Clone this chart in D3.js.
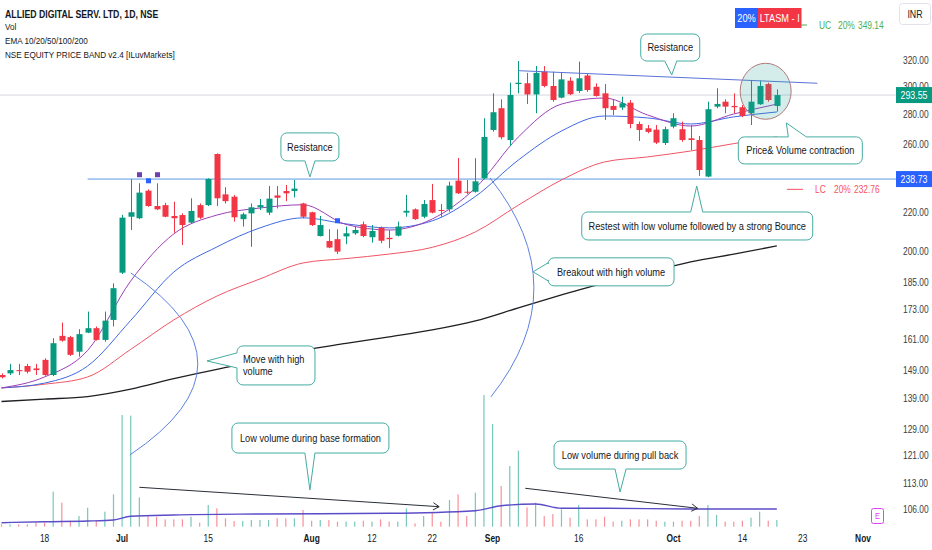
<!DOCTYPE html>
<html>
<head>
<meta charset="utf-8">
<script src="https://cdn.jsdelivr.net/npm/d3@7"></script>
<style>
  html, body { margin: 0; padding: 0; background: #fff; }
  svg { display: block; font-family: "Liberation Sans", Arial, sans-serif; }
</style>
</head>
<body>
<svg id="chart" width="932" height="550"></svg>
<script>
// Trading days on the chart (2024), then the empty days right of the last bar
const dates = [
  '06-10','06-11','06-12','06-13','06-14','06-18','06-19','06-20','06-21','06-24','06-25','06-26','06-27','06-28',
  '07-01','07-02','07-03','07-04','07-05','07-08','07-09','07-10','07-11','07-12','07-15','07-16','07-18','07-19',
  '07-22','07-23','07-24','07-25','07-26','07-29','07-30','07-31',
  '08-01','08-02','08-05','08-06','08-07','08-08','08-09','08-12','08-13','08-14','08-16','08-19','08-20','08-21',
  '08-22','08-23','08-26','08-27','08-28','08-29','08-30',
  '09-02','09-03','09-04','09-05','09-06','09-09','09-10','09-11','09-12','09-13','09-16','09-17','09-18','09-19',
  '09-20','09-23','09-24','09-25','09-26','09-27','09-30',
  '10-01','10-03','10-04','10-07','10-08','10-09','10-10','10-11','10-14','10-15','10-16','10-17','10-18'
];
const futureDates = ['10-21','10-22','10-23','10-24','10-25','10-28','10-29','10-30','10-31','11-01'];

const opens = [
  147.4,148.0,149.2,150.7,149.8,153.0,147.4,162.3,161.8,156.1,163.6,165.4,160.7,168.8,
  189.6,217.6,216.8,232.0,223.4,223.9,218.0,218.5,214.5,223.9,223.9,253.9,229.9,228.6,
  216.3,219.4,222.7,219.8,229.3,231.8,231.8,224.8,
  220.0,207.5,205.0,205.9,207.3,208.9,213.6,206.9,211.8,206.6,207.7,219.8,221.6,217.6,
  226.7,221.2,221.6,237.8,231.4,231.4,239.2,
  269.4,284.2,262.8,301.6,302.2,294.0,311.0,300.2,291.7,304.1,296.5,308.0,299.6,294.8,
  285.8,284.7,288.1,273.4,270.5,269.6,260.9,
  271.6,269.9,263.9,262.8,240.2,285.3,288.8,285.8,284.9,280.7,287.0,301.6,285.8
];
const highs = [
  148.0,151.5,151.5,151.5,151.5,153.6,161.4,167.7,162.3,165.0,172.3,166.1,172.3,184.7,
  218.6,238.6,236.3,232.8,236.3,225.2,225.8,219.4,227.7,224.8,239.2,254.3,234.0,229.6,
  219.8,224.8,227.3,234.7,234.7,235.3,238.2,225.2,
  220.3,218.0,211.0,211.0,212.4,212.4,215.0,213.2,212.4,210.6,215.0,229.6,222.1,226.7,
  235.9,224.5,237.2,251.4,238.2,251.3,277.3,
  294.8,290.5,302.6,319.2,310.0,315.3,315.3,311.0,310.0,306.7,318.7,309.4,302.1,301.6,
  290.0,292.4,290.0,275.0,272.7,272.7,271.6,
  280.7,275.0,272.7,265.4,288.8,298.5,290.5,294.8,286.5,304.6,304.1,302.6,297.7
];
const lows = [
  146.2,147.4,147.4,148.0,147.4,147.1,147.0,160.0,154.5,154.2,163.4,160.4,160.0,166.1,
  189.0,210.6,216.3,223.0,221.2,217.3,209.2,203.0,214.2,216.4,223.4,223.4,224.8,215.0,
  212.4,202.1,221.2,218.5,222.1,226.1,228.2,216.8,
  212.7,207.3,201.4,198.5,203.4,208.1,206.9,204.2,203.9,201.4,207.3,217.6,215.9,216.8,
  219.4,217.6,220.3,230.1,230.1,230.9,238.6,
  268.3,263.3,259.0,294.8,287.2,280.7,299.2,288.8,291.2,293.5,295.2,295.9,292.4,276.1,
  279.5,283.0,270.5,262.2,267.2,260.2,259.6,
  270.5,261.7,256.4,240.6,239.8,284.2,280.7,280.7,278.0,272.7,286.5,288.8,281.8
];
const closes = [
  146.6,149.2,148.8,148.6,149.2,147.4,159.4,160.4,154.9,163.0,165.4,160.7,168.5,182.5,
  217.1,220.0,230.9,223.4,221.6,217.6,216.8,213.2,220.7,217.1,238.8,227.7,226.1,217.3,
  218.9,222.7,223.9,227.5,228.0,230.5,233.2,217.6,
  213.2,213.2,201.7,199.7,208.9,210.6,207.5,210.1,205.1,205.9,212.4,220.8,216.3,224.5,
  219.8,220.7,234.9,230.5,230.9,237.4,264.8,
  281.4,264.6,293.6,302.6,294.0,310.0,300.2,290.0,305.1,294.2,305.9,297.2,292.9,284.2,
  283.0,287.7,273.4,269.4,268.1,261.1,269.9,
  277.3,262.8,262.8,244.1,283.5,287.2,285.3,284.9,278.9,288.8,300.2,290.0,293.55
];
// volume, thousand shares
const volumes = [
  70,70,70,70,120,120,1050,720,180,320,570,180,450,970,
  3350,3330,880,320,300,220,220,220,300,120,650,550,250,170,
  170,200,200,200,250,250,250,500,
  180,200,200,150,150,150,180,150,220,150,150,550,100,320,
  420,150,800,970,320,1020,3950,
  3080,1220,1820,2280,580,720,320,380,520,270,650,220,220,300,
  150,180,220,220,220,180,150,
  150,180,180,320,650,350,150,150,180,270,450,180,200
];

// moving averages at every fifth session
const emaDates = ['06-10','06-18','06-25','07-02','07-09','07-16','07-24','07-31','08-07','08-14',
  '08-22','08-29','09-05','09-12','09-19','09-26','10-04','10-11','10-18'];
const ema10 = [142.8,146.7,156.6,185.8,208.6,218.5,222.3,224.1,213.5,210.6,216.4,233.5,264.8,287.1,291.4,279.5,272.0,280.2,287.1];
const ema20 = [142.8,144.5,150.7,168.6,189.9,202.0,211.7,217.0,213.8,211.7,215.4,228.7,250.2,268.7,278.8,277.5,273.4,278.2,281.6];
const ema50 = [142.8,144.1,146.7,157.0,168.8,179.0,186.7,194.2,196.3,198.5,201.8,209.6,223.9,238.2,249.0,252.1,255.8,260.5,264.8];
const ema200 = [138.1,138.9,139.8,142.4,146.1,149.5,152.6,156.6,159.3,161.9,164.7,168.4,173.9,179.5,184.9,189.7,194.7,198.5,202.5];

const volMaDates = ['06-10','06-18','06-25','06-28','07-02','07-09','07-24','08-14','08-29','09-03','09-09','09-12','09-19','10-04','10-18'];
const volMa = [120,150,171,201,312,351,381,402,480,630,681,552,552,531,531];

// price band markers shown above some bars
const markerDates = ['07-03','07-04','07-05','08-06'];
const markerKinds = ['purple','blue','purple','blue'];

const priceTicks = [320,300,280,260,220,200,185,173,161,149,139,129,121,113,106];
const dateTicks = ['06-18','07-01','07-15','08-01','08-12','08-22','09-02','09-16','10-01','10-14','10-23','11-01'];
const dateTickLabels = ['18','Jul','15','Aug','12','22','Sep','16','Oct','14','23','Nov'];

const lastPrice = 293.55;
const levelPrice = 238.73;
const upperCircuit = 349.14;
const lowerCircuit = 232.76;

// ---------------------------------------------------------------------------
const colors = {
  up: '#089981', down: '#f23645',
  ema10: '#9c3fb8', ema20: '#3f69e3', ema50: '#ef5565', ema200: '#1f1f24',
  volMa: '#5b4cc8', text: '#131722', axis: '#3a3d44',
  note: '#45aca2', drawBlue: '#5b82e0'
};
// the screenshot is squeezed sideways, so glyphs are narrowed to match
const SX = 0.84;

const svg = d3.select('#chart');
const allDates = dates.concat(futureDates);
const idx = d => allDates.indexOf(d);

const x = d3.scaleLinear().domain([0, allDates.length - 1]).range([1.5, 863]);
const y = d3.scaleLog().domain([320, 106]).range([60, 509]);
const yv = d3.scaleLinear().domain([0, 3950]).range([526.7, 395]);
const plotRight = 896;

// point in chart space: [bar index, value, 'p' price | 'v' volume]
const pt = a => [x(a[0]), a[2] === 'v' ? yv(a[1]) : y(a[1])];

function label(parent, tx, ty, str, o = {}) {
  return parent.append('text')
    .attr('transform', `translate(${tx},${ty}) scale(${SX},1)`)
    .attr('dy', '0.35em')
    .attr('text-anchor', o.anchor || 'start')
    .attr('font-size', o.size || 10)
    .attr('font-weight', o.weight || 'normal')
    .attr('fill', o.fill || colors.text)
    .text(str);
}

const bars = dates.map((d, i) => ({
  i, d, o: opens[i], h: highs[i], l: lows[i], c: closes[i], v: volumes[i]
}));

svg.append('rect').attr('width', 932).attr('height', 550).attr('fill', '#fff');

// Volume overlay
svg.append('g').selectAll('rect').data(bars).join('rect')
  .attr('x', b => x(b.i) - 0.6)
  .attr('width', 1.2)
  .attr('y', b => yv(b.v))
  .attr('height', b => yv(0) - yv(b.v))
  .attr('fill', b => (b.c >= b.o ? colors.up : colors.down))
  .attr('opacity', 0.55);

svg.append('path')
  .datum(volMaDates.map((d, k) => [idx(d), volMa[k]]))
  .attr('fill', 'none').attr('stroke', colors.volMa).attr('stroke-width', 1.4)
  .attr('d', d3.line().x(p => x(p[0])).y(p => yv(p[1])).curve(d3.curveMonotoneX));

// Last price line and the horizontal level
svg.append('line')
  .attr('x1', 0).attr('x2', plotRight).attr('y1', y(lastPrice)).attr('y2', y(lastPrice))
  .attr('stroke', '#d5d8de').attr('stroke-width', 1);
svg.append('line')
  .attr('x1', x(10)).attr('x2', plotRight).attr('y1', y(levelPrice)).attr('y2', y(levelPrice))
  .attr('stroke', '#5b9be6').attr('stroke-width', 1);

// EMAs
const emaLine = d3.line().x(p => x(p[0])).y(p => y(p[1])).curve(d3.curveMonotoneX);
[[ema200, colors.ema200, 1.3], [ema50, colors.ema50, 1], [ema20, colors.ema20, 1], [ema10, colors.ema10, 1]]
  .forEach(([vals, col, w]) => {
    svg.append('path')
      .datum(emaDates.map((d, k) => [idx(d), vals[k]]))
      .attr('fill', 'none').attr('stroke', col).attr('stroke-width', w)
      .attr('d', emaLine);
  });

// Candles
const candle = svg.append('g').selectAll('g').data(bars).join('g')
  .attr('fill', b => (b.c >= b.o ? colors.up : colors.down));
candle.append('rect')
  .attr('x', b => Math.round(x(b.i)))
  .attr('width', 1)
  .attr('y', b => y(b.h))
  .attr('height', b => y(b.l) - y(b.h));
candle.append('rect')
  .attr('x', b => Math.round(x(b.i)) - 2.5)
  .attr('width', 6)
  .attr('y', b => y(Math.max(b.o, b.c)))
  .attr('height', b => Math.max(1, Math.abs(y(b.o) - y(b.c))));

svg.append('g').selectAll('rect').data(markerDates).join('rect')
  .attr('x', d => Math.round(x(idx(d))) - 2)
  .attr('y', d => y(highs[idx(d)]) - 11)
  .attr('width', 5).attr('height', 5)
  .attr('fill', (d, k) => (markerKinds[k] === 'purple' ? '#6f3fb0' : '#2962ff'));

// ---------------------------------------------------------------------------
// Drawings
const draw = svg.append('g');

// falling resistance line over the top
draw.append('line')
  .attr('x1', x(60)).attr('y1', y(311.7)).attr('x2', x(94.7)).attr('y2', y(302.2))
  .attr('stroke', '#5a73d8').attr('stroke-width', 1);

// brackets joining a price move to its volume
[{ from: [15.0, 189.5, 'p'], to: [14.9, 2151, 'v'], bulge: 135 },
 { from: [56.7, 239.4, 'p'], to: [56.8, 3891, 'v'], bulge: 87 }].forEach(a => {
  const p0 = pt(a.from), p1 = pt(a.to);
  const cx = (p0[0] + p1[0]) / 2 + a.bulge, cy = (p0[1] + p1[1]) / 2;
  draw.append('path')
    .attr('d', `M${p0[0]},${p0[1]} Q${cx},${cy} ${p1[0]},${p1[1]}`)
    .attr('fill', 'none').attr('stroke', colors.drawBlue).attr('stroke-width', 1);
});

// contraction circle
const cc = pt([88.7, 296.3, 'p']);
draw.append('ellipse')
  .attr('cx', cc[0]).attr('cy', cc[1]).attr('rx', 25.5).attr('ry', 28)
  .attr('fill', 'rgba(38,166,154,0.2)').attr('stroke', '#b07a7a').attr('stroke-width', 1);

// volume trend arrows
[{ from: [16.0, 1182, 'v'], to: [50.8, 600, 'v'] },
 { from: [60.8, 1152, 'v'], to: [80.8, 552, 'v'] }].forEach(a => {
  const p0 = pt(a.from), p1 = pt(a.to);
  const ang = Math.atan2(p1[1] - p0[1], p1[0] - p0[0]);
  const head = 7, spread = 0.55;
  draw.append('path')
    .attr('d', `M${p0[0]},${p0[1]} L${p1[0]},${p1[1]}` +
      ` M${p1[0] - head * Math.cos(ang - spread)},${p1[1] - head * Math.sin(ang - spread)}` +
      ` L${p1[0]},${p1[1]} L${p1[0] - head * Math.cos(ang + spread)},${p1[1] - head * Math.sin(ang + spread)}`)
    .attr('fill', 'none').attr('stroke', '#2a2e39').attr('stroke-width', 1);
});

// callouts: box given relative to the tip
const callouts = [
  { text: ['Resistance'], at: [35.8, 240, 'p'], box: [-29, -44, 58, 28], side: 'bottom', base: [-5, 5] },
  { text: ['Resistance'], at: [77.8, 308.4, 'p'], box: [-31, -41, 59, 27], side: 'bottom', base: [-7, 5] },
  { text: ['Price& Volume contraction'], at: [91.1, 274.1, 'p'], box: [-48, 14, 124, 27], side: 'top', base: [2, 20] },
  { text: ['Restest with low volume followed by a strong Bounce'], at: [80.7, 234.7, 'p'], box: [-115, 26, 231, 28], side: 'top', base: [-6, 6] },
  { text: ['Breakout with high volume'], at: [61.7, 190.0, 'p'], box: [15, -14, 126, 28], side: 'left', base: [-9, 9] },
  { text: ['Move with high', 'volume'], at: [23.85, 152.6, 'p'], box: [30, -15, 78, 39], side: 'left', base: [-8, 7], left: true },
  { text: ['Low volume during base formation'], at: [35.8, 1100, 'v'], box: [-78, -67, 157, 30], side: 'bottom', base: [-5, 5] },
  { text: ['Low volume during pull back'], at: [71.8, 1040, 'v'], box: [-66, -51, 132, 28], side: 'bottom', base: [-5, 6] }
];

function calloutPath(bx, by, bw, bh, side, s0, s1, tx, ty) {
  const r = 6, x0 = bx, y0 = by, x1 = bx + bw, y1 = by + bh;
  const p = d3.path();
  p.moveTo(x0 + r, y0);
  if (side === 'top') { p.lineTo(s0, y0); p.lineTo(tx, ty); p.lineTo(s1, y0); }
  p.lineTo(x1 - r, y0); p.arcTo(x1, y0, x1, y0 + r, r);
  p.lineTo(x1, y1 - r); p.arcTo(x1, y1, x1 - r, y1, r);
  if (side === 'bottom') { p.lineTo(s1, y1); p.lineTo(tx, ty); p.lineTo(s0, y1); }
  p.lineTo(x0 + r, y1); p.arcTo(x0, y1, x0, y1 - r, r);
  if (side === 'left') { p.lineTo(x0, s1); p.lineTo(tx, ty); p.lineTo(x0, s0); }
  p.lineTo(x0, y0 + r); p.arcTo(x0, y0, x0 + r, y0, r);
  p.closePath();
  return p.toString();
}

callouts.forEach(c => {
  const [tx, ty] = pt(c.at);
  const bx = tx + c.box[0], by = ty + c.box[1], bw = c.box[2], bh = c.box[3];
  const horiz = c.side === 'left';
  const s0 = (horiz ? ty : tx) + c.base[0], s1 = (horiz ? ty : tx) + c.base[1];
  draw.append('path')
    .attr('d', calloutPath(bx, by, bw, bh, c.side, s0, s1, tx, ty))
    .attr('fill', '#fff').attr('stroke', colors.note).attr('stroke-width', 1);
  const lh = 12, top = by + bh / 2 - (c.text.length - 1) * lh / 2;
  c.text.forEach((t, k) => {
    label(draw, c.left ? bx + 6 : bx + bw / 2, top + k * lh, t,
      { anchor: c.left ? 'start' : 'middle', size: 11 });
  });
});

// ---------------------------------------------------------------------------
// Axes
const axis = svg.append('g');
priceTicks.forEach(v => label(axis, 903, y(v), v.toFixed(2), { size: 10, fill: colors.axis }));
dateTicks.forEach((d, k) => {
  const t = dateTickLabels[k];
  label(axis, x(idx(d)), 538, t, { anchor: 'middle', size: 10, weight: /^[A-Z]/.test(t) ? 'bold' : 'normal' });
});

// price labels on the scale
function scaleTag(value, fill) {
  const g = svg.append('g');
  g.append('rect').attr('x', 896).attr('y', y(value) - 8).attr('width', 36).attr('height', 16).attr('fill', fill);
  label(g, 914, y(value), value.toFixed(2), { anchor: 'middle', size: 10.5, fill: '#fff' });
}
scaleTag(levelPrice, '#2962ff');
scaleTag(lastPrice, colors.up);

// circuit limits
function circuit(name, value, ty, col, lx0, lx1) {
  const g = svg.append('g');
  g.append('line').attr('x1', lx0).attr('x2', lx1).attr('y1', ty).attr('y2', ty)
    .attr('stroke', col).attr('stroke-width', 1);
  label(g, lx1 + 12, ty, name, { size: 10, fill: col });
  label(g, lx1 + 31, ty, '20%', { size: 10, fill: col });
  label(g, lx1 + 51, ty, value.toFixed(2), { size: 10, fill: col });
}
circuit('UC', upperCircuit, 25, '#4caf50', 801, 807);
circuit('LC', lowerCircuit, y(lowerCircuit), '#f7525f', 787, 803);

// ASM badges
const badges = svg.append('g');
badges.append('rect').attr('x', 735).attr('y', 8).attr('width', 23).attr('height', 20).attr('fill', '#2962ff');
badges.append('rect').attr('x', 758).attr('y', 8).attr('width', 43.5).attr('height', 20).attr('fill', '#f23645');
label(badges, 746.5, 18, '20%', { anchor: 'middle', size: 11, fill: '#fff' });
label(badges, 779.7, 18, 'LTASM - I', { anchor: 'middle', size: 11, fill: '#fff' });

// currency box
svg.append('rect').attr('x', 899.5).attr('y', 3.5).attr('width', 31).attr('height', 21).attr('rx', 3)
  .attr('fill', '#fff').attr('stroke', '#e0e3eb');
label(svg, 915, 14, 'INR', { anchor: 'middle', size: 10.5 });

// earnings flag
svg.append('rect').attr('x', 871.5).attr('y', 508.5).attr('width', 12).attr('height', 15).attr('rx', 2)
  .attr('fill', '#fff').attr('stroke', '#e040fb');
label(svg, 877.5, 516, 'E', { anchor: 'middle', size: 9, fill: '#e040fb' });

// legend
const legend = svg.append('g');
[['ALLIED DIGITAL SERV. LTD, 1D, NSE', 14, 'bold', 10.4], ['Vol', 27, 'normal', 9.7],
 ['EMA 10/20/50/100/200', 41, 'normal', 9.7], ['NSE EQUITY PRICE BAND v2.4 [ILuvMarkets]', 55, 'normal', 9.7]]
  .forEach(([t, ty, fw, fs]) => label(legend, 5, ty, t, { size: fs, weight: fw }));
</script>
</body>
</html>
